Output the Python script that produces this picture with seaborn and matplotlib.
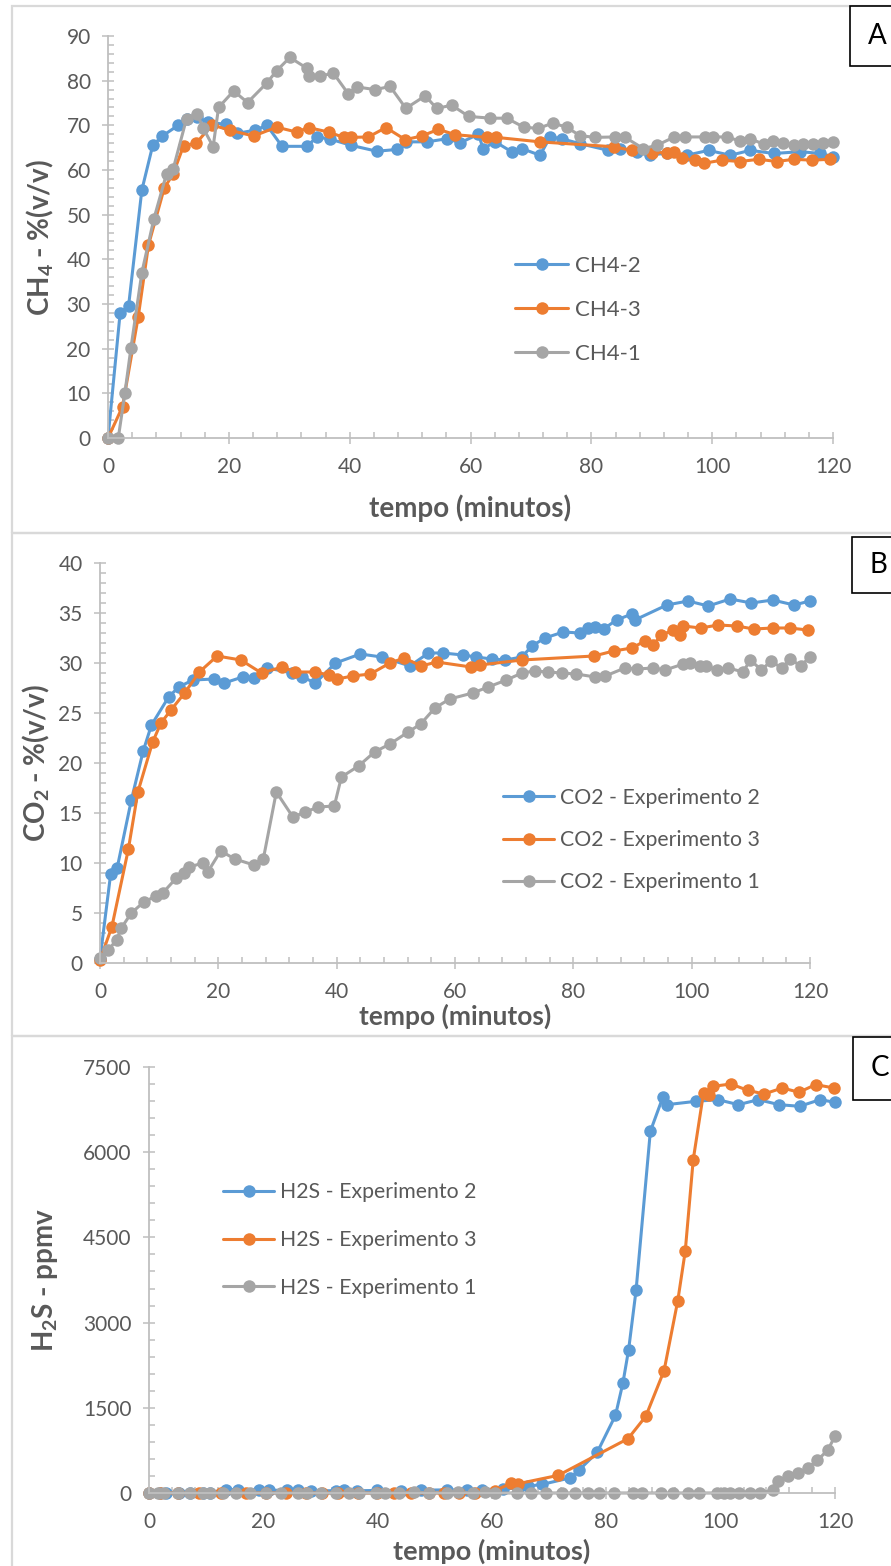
import numpy as np
import pandas as pd
import matplotlib
matplotlib.use("Agg")
import matplotlib.pyplot as plt
from matplotlib.patches import Rectangle
from matplotlib.lines import Line2D
from matplotlib.ticker import MultipleLocator
import seaborn as sns

# -- Painel A: CH4 (% v/v) --
ch4_2_t = [0, 2.0, 3.4, 5.6, 7.4, 9.0, 11.6, 13.0, 14.7, 16.5, 19.6, 21.3, 24.3, 26.3, 28.8, 32.9,
           34.6, 36.8, 40.3, 44.5, 47.8, 49.4, 52.8, 56.1, 58.3, 61.3, 62.1, 64.1, 66.8, 68.5, 71.5,
           73.2, 75.1, 78.1, 82.8, 84.8, 87.5, 89.7, 92.5, 95.8, 99.4, 103.0, 106.3, 110.2, 114.6,
           117.9, 120]
ch4_2_v = [0, 27.9, 29.5, 55.5, 65.5, 67.6, 70.0, 71.5, 71.9, 70.7, 70.2, 68.2, 68.9, 70.0, 65.3, 65.3,
           67.4, 66.9, 65.5, 64.2, 64.6, 66.3, 66.3, 67.0, 66.1, 68.0, 64.8, 66.3, 64.1, 64.8, 63.3,
           67.4, 67.0, 65.9, 64.4, 64.8, 64.1, 63.3, 63.8, 63.3, 64.4, 63.3, 64.4, 63.7, 64.1,
           63.7, 63.0]
ch4_3_t = [0, 2.4, 5.0, 6.7, 9.3, 10.8, 12.5, 14.6, 17.2, 20.2, 24.1, 27.9, 31.2, 33.2, 36.5, 39.0,
           40.3, 43.1, 46.0, 49.2, 51.9, 54.7, 57.5, 62.7, 64.3, 71.5, 83.7, 86.7, 90.0, 92.5, 93.6,
           95.0, 97.2, 98.6, 101.6, 104.6, 107.7, 110.7, 113.5, 116.5, 119.5]
ch4_3_v = [0, 7.0, 27.1, 43.2, 55.9, 59.2, 65.4, 66.0, 70.1, 68.9, 67.6, 69.6, 68.5, 69.5, 68.5, 67.3,
           67.3, 67.4, 69.5, 66.8, 67.6, 69.1, 67.9, 67.3, 67.3, 66.3, 65.2, 64.4, 63.9, 63.9, 64.1,
           62.6, 62.2, 61.5, 62.2, 61.9, 62.4, 61.9, 62.4, 62.2, 62.4]
ch4_1_t = [0, 1.7, 2.8, 3.8, 5.6, 7.6, 9.7, 10.8, 13.0, 14.7, 15.8, 17.4, 18.3, 20.8, 23.1, 26.3,
           27.9, 30.1, 32.9, 33.2, 35.1, 37.3, 39.8, 41.2, 44.2, 46.7, 49.3, 52.5, 54.4, 56.9, 59.7,
           63.3, 66.0, 68.8, 71.2, 73.6, 75.9, 78.1, 80.6, 83.9, 85.6, 88.6, 90.8, 93.6, 95.5, 98.8,
           100.2, 102.4, 104.6, 106.3, 108.5, 110.1, 111.8, 113.5, 115.1, 116.7, 118.4, 120]
ch4_1_v = [0, 0, 10.1, 20.2, 37.0, 49.1, 59.2, 60.3, 71.5, 72.6, 69.3, 65.2, 74.0, 77.7, 75.1, 79.5,
           82.2, 85.2, 82.8, 81.0, 81.0, 81.7, 77.0, 78.6, 78.0, 78.7, 73.8, 76.6, 73.8, 74.5, 72.0,
           71.6, 71.6, 69.6, 69.3, 70.5, 69.6, 67.7, 67.3, 67.4, 67.3, 64.8, 65.5, 67.3, 67.4, 67.4,
           67.4, 67.4, 66.5, 67.0, 65.8, 66.5, 66.1, 65.5, 65.9, 65.9, 66.1, 66.3]

# -- Painel B: CO2 (% v/v) --
co2_2_t = [0, 1.8, 2.9, 5.3, 7.3, 8.7, 11.6, 13.3, 15.7, 19.3, 21.0, 24.1, 26.0, 28.3, 32.5, 34.2,
           36.4, 39.8, 44.0, 47.6, 52.4, 55.5, 58.0, 61.3, 63.6, 66.2, 68.5, 71.3, 73.0, 75.2, 78.3,
           81.1, 82.5, 83.7, 85.1, 87.3, 89.9, 90.4, 95.8, 99.4, 102.8, 106.5, 110.1, 113.7, 117.3, 120]
co2_2_v = [0.4, 8.9, 9.5, 16.3, 21.2, 23.8, 26.6, 27.6, 28.3, 28.4, 28.0, 28.6, 28.5, 29.5, 29.0, 28.6,
           28.0, 30.0, 30.9, 30.6, 29.7, 31.0, 31.0, 30.8, 30.6, 30.4, 30.3, 30.6, 31.7, 32.5, 33.1,
           33.0, 33.5, 33.6, 33.4, 34.3, 34.9, 34.3, 35.8, 36.2, 35.7, 36.4, 36.0, 36.3, 35.8, 36.2]
co2_3_t = [0, 2.0, 4.8, 6.4, 8.9, 10.3, 12.0, 14.3, 16.8, 19.8, 23.8, 27.3, 30.8, 33.0, 36.3, 38.7,
           40.1, 42.7, 45.7, 49.0, 51.4, 54.3, 56.9, 62.7, 64.2, 71.3, 83.5, 86.8, 89.9, 92.1, 93.5,
           94.9, 96.9, 98.0, 98.6, 101.5, 104.5, 107.6, 110.5, 113.7, 116.6, 119.6]
co2_3_v = [0.3, 3.6, 11.4, 17.1, 22.1, 24.0, 25.3, 27.0, 29.1, 30.7, 30.3, 29.0, 29.6, 29.1, 29.1, 28.8,
           28.4, 28.7, 28.9, 30.0, 30.5, 29.7, 30.1, 29.6, 29.8, 30.3, 30.7, 31.2, 31.5, 32.2, 31.8,
           32.8, 33.3, 32.8, 33.7, 33.5, 33.8, 33.7, 33.4, 33.5, 33.5, 33.3]
co2_1_t = [0, 1.4, 2.8, 3.6, 5.3, 7.4, 9.5, 10.6, 12.9, 14.2, 15.1, 17.4, 18.2, 20.4, 22.8, 26.0,
           27.6, 29.8, 32.6, 34.7, 36.9, 39.6, 40.8, 43.7, 46.4, 49.0, 52.1, 54.2, 56.6, 59.1, 63.0,
           65.6, 68.7, 71.3, 73.5, 75.8, 78.0, 80.5, 83.7, 85.4, 88.7, 90.7, 93.5, 95.5, 98.6, 99.7,
           101.4, 102.5, 104.3, 106.2, 108.7, 109.9, 111.8, 113.4, 115.2, 116.7, 118.4, 120]
co2_1_v = [0.5, 1.3, 2.3, 3.5, 5.0, 6.1, 6.7, 7.0, 8.5, 9.0, 9.6, 10.0, 9.1, 11.2, 10.4, 9.8,
           10.4, 17.1, 14.6, 15.1, 15.6, 15.7, 18.6, 19.7, 21.1, 21.9, 23.1, 23.9, 25.5, 26.4, 27.0,
           27.6, 28.3, 29.0, 29.2, 29.1, 29.0, 28.9, 28.6, 28.7, 29.5, 29.4, 29.5, 29.3, 29.9, 30.0,
           29.7, 29.7, 29.3, 29.5, 29.1, 30.3, 29.3, 30.2, 29.5, 30.4, 29.7, 30.6]

# -- Painel C: H2S (ppmv) --
h2s_2_t = [0, 1.9, 3.0, 5.3, 7.1, 9.4, 10.6, 13.4, 15.5, 19.3, 21.0, 24.2, 26.0, 28.3, 32.7, 34.1,
           36.4, 39.9, 44.0, 47.5, 52.1, 55.6, 58.3, 62.0, 64.5, 66.3, 68.7, 73.6, 75.3, 78.4, 81.6,
           82.9, 83.9, 85.2, 87.7, 89.9, 90.6, 95.7, 99.5, 103.1, 106.6, 110.2, 113.8, 117.4, 120]
h2s_2_v = [0, 5, 5, 5, 5, 5, 5, 60, 60, 55, 50, 45, 45, 40, 40, 45,
           40, 45, 40, 50, 55, 50, 60, 70, 90, 120, 150, 264, 411, 716, 1367,
           1937, 2524, 3568, 6368, 6972, 6837, 6896, 6925, 6837, 6925, 6837, 6808, 6925, 6878]
h2s_3_t = [0, 1.9, 5.1, 8.8, 12.6, 17.0, 20.5, 24.0, 27.4, 30.3, 33.0, 36.5, 39.9, 42.8, 45.8, 49.0,
           51.6, 54.2, 57.1, 60.5, 63.4, 64.6, 71.6, 83.8, 86.9, 90.1, 92.5, 93.8, 95.2, 97.0, 98.0,
           98.7, 101.8, 104.7, 107.6, 110.8, 113.7, 116.6, 119.8]
h2s_3_v = [0, 0, 0, 0, 0, 0, 0, 0, 0, 0, 0, 0, 0, 0, 0, 0,
           0, 0, 0, 40, 176, 164, 311, 957, 1350, 2154, 3387, 4255, 5869, 7043, 7014,
           7160, 7201, 7090, 7025, 7131, 7055, 7190, 7131]
h2s_1_t = [0, 1.6, 2.7, 5.1, 7.1, 9.4, 10.6, 12.9, 15.2, 17.6, 20.5, 23.1, 26.0, 27.7, 30.1, 32.7,
           35.0, 36.7, 39.7, 41.2, 43.7, 46.3, 49.0, 52.1, 54.1, 56.7, 58.8, 60.5, 64.3, 66.9, 69.5,
           72.2, 74.5, 76.8, 78.8, 81.3, 84.6, 86.3, 89.5, 91.6, 94.3, 96.2, 99.4, 100.6, 101.7, 103.2,
           105.2, 106.8, 109.1, 110.0, 111.7, 113.6, 115.2, 116.9, 118.7, 120]
h2s_1_v = [0, 0, 0, 0, 0, 0, 0, 0, 0, 0, 0, 0, 0, 0, 0, 0,
           0, 0, 0, 0, 0, 20, 0, 0, 20, 0, 20, 0, 0, 0, 0,
           0, 0, 0, 0, 0, 0, 0, 0, 0, 0, 0, 0, 0, 0, 0,
           0, 0, 47, 205, 293, 352, 440, 575, 751, 998]

sns.set_theme(style="white")
plt.rcParams['font.family'] = ['Lato', 'DejaVu Sans']
plt.rcParams['mathtext.default'] = 'regular'

AZUL, LARANJA, CINZA = '#5B9BD5', '#ED7D31', '#A5A5A5'
TXT = '#595959'
EIXO = '#BFBFBF'
BORDA = '#D9D9D9'

W, H = 891, 1566
fig = plt.figure(figsize=(W / 100, H / 100), dpi=100)
fig.patch.set_facecolor('white')


def fx(x):
    return x / W


def fy(y):
    return 1 - y / H


# bordas das areas de grafico
for top, bot in [(6, 533), (533, 1036), (1036, H + 5)]:
    fig.add_artist(Rectangle((fx(12), fy(bot)), fx(W + 10 - 12), (bot - top) / H,
                             transform=fig.transFigure, fill=False, ec=BORDA, lw=1.6))


def painel(box, series, ylim, ymaj, ymin, ylabel, ylab_x, xlab_y, xlab_fs, leg_x, leg_y, leg_fs,
           leg_sp, letra, caixa):
    left, top, right, bottom = box
    ax = fig.add_axes([fx(left), fy(bottom), (right - left) / W, (bottom - top) / H])
    ax.set_facecolor('none')
    nomes = [s[0] for s in series]
    df = pd.concat([pd.DataFrame({'tempo': t, 'valor': v, 'serie': n}) for n, t, v in series])
    cores = [AZUL, LARANJA, CINZA]
    sns.lineplot(data=df, x='tempo', y='valor', hue='serie', hue_order=nomes, palette=cores,
                 marker='o', markersize=9, markeredgewidth=0, linewidth=2.2,
                 estimator=None, sort=False, legend=False, clip_on=False, ax=ax)
    ax.set_xlim(0, 120)
    ax.set_ylim(*ylim)
    ax.xaxis.set_major_locator(MultipleLocator(20))
    ax.xaxis.set_minor_locator(MultipleLocator(4))
    ax.yaxis.set_major_locator(MultipleLocator(ymaj))
    ax.yaxis.set_minor_locator(MultipleLocator(ymin))
    for s in ['top', 'right']:
        ax.spines[s].set_visible(False)
    for s in ['left', 'bottom']:
        ax.spines[s].set_color(EIXO)
        ax.spines[s].set_linewidth(1.3)
    ax.tick_params(which='major', direction='inout', length=9, width=1.1, color=EIXO,
                   labelcolor=TXT, labelsize=15)
    ax.tick_params(which='minor', direction='in', length=4, width=1.1, color=EIXO)
    ax.tick_params(axis='y', which='major', pad=8, left=True)
    ax.tick_params(axis='x', which='major', pad=9, bottom=True)
    ax.tick_params(axis='both', which='minor', left=True, bottom=True)

    ax.set_xlabel('tempo (minutos)', fontsize=xlab_fs, fontweight='bold', color=TXT)
    ax.xaxis.set_label_coords(fx((left + right) / 2), fy(xlab_y), transform=fig.transFigure)
    ax.xaxis.label.set_va('center')
    ax.set_ylabel(ylabel, fontsize=20, fontweight='bold', color=TXT)
    ax.yaxis.set_label_coords(fx(ylab_x), fy((top + bottom) / 2), transform=fig.transFigure)
    ax.yaxis.label.set_va('center')

    handles = [Line2D([], [], color=c, lw=2.2, marker='o', markersize=9, markeredgewidth=0)
               for c in cores]
    leg = ax.legend(handles, nomes, loc='center left', bbox_to_anchor=(fx(leg_x), fy(leg_y)),
                    bbox_transform=fig.transFigure, frameon=False, fontsize=leg_fs,
                    handlelength=2.4, handletextpad=0.3, labelspacing=leg_sp,
                    borderpad=0, borderaxespad=0)
    for t in leg.get_texts():
        t.set_color(TXT)

    bx0, by0, by1 = caixa
    fig.add_artist(Rectangle((fx(bx0), fy(by1)), fx(W + 10 - bx0), (by1 - by0) / H,
                             transform=fig.transFigure, fc='white', ec='black', lw=1.2))
    fig.text(fx(bx0 + 18), fy((by0 + by1) / 2), letra, fontsize=20, color='black',
             ha='left', va='center')
    return ax


painel((108, 36, 833, 438),
       [('CH4-2', ch4_2_t, ch4_2_v), ('CH4-3', ch4_3_t, ch4_3_v), ('CH4-1', ch4_1_t, ch4_1_v)],
       (0, 90), 10, 2, 'CH$_4$ - %(v/v)', 40, 508, 20, 515, 310, 16, 1.07, 'A', (850, 6, 66))

painel((100, 563, 810, 963),
       [('CO2 - Experimento 2', co2_2_t, co2_2_v), ('CO2 - Experimento 3', co2_3_t, co2_3_v),
        ('CO2 - Experimento 1', co2_1_t, co2_1_v)],
       (0, 40), 5, 1, 'CO$_2$ - %(v/v)', 36, 1016, 19, 503, 840, 15.3, 1.05, 'B', (852, 537, 593))

painel((149, 1067, 835, 1493),
       [('H2S - Experimento 2', h2s_2_t, h2s_2_v), ('H2S - Experimento 3', h2s_3_t, h2s_3_v),
        ('H2S - Experimento 1', h2s_1_t, h2s_1_v)],
       (0, 7500), 1500, 300, 'H$_2$S - ppmv', 45, 1551, 19.5, 223, 1240, 15.3, 1.3, 'C',
       (853, 1037, 1100))

fig.savefig('out.png', dpi=100, facecolor='white')
